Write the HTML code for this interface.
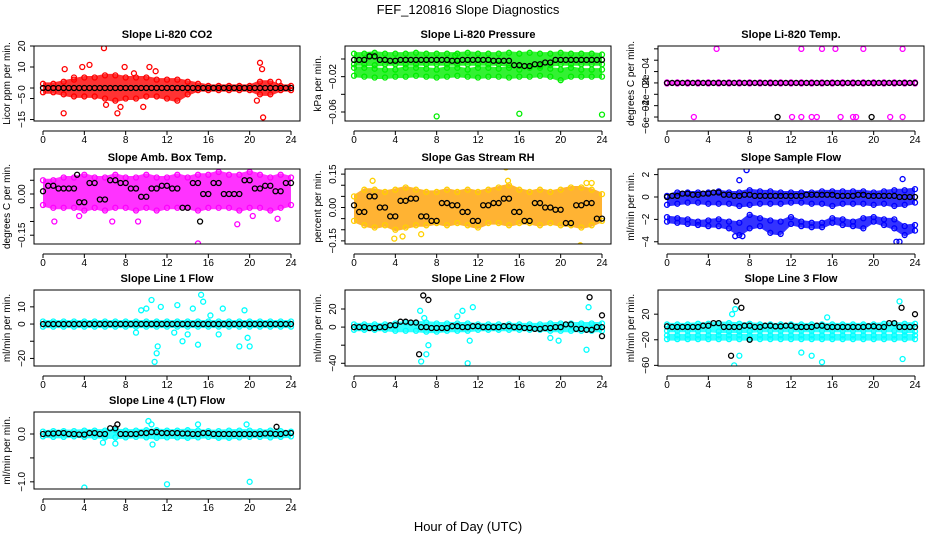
<!DOCTYPE html>
<html><head><meta charset="utf-8"><style>
body{margin:0;background:#fff;}
svg{display:block;font-family:"Liberation Sans",sans-serif;}
</style></head><body>
<svg id="chart" width="936" height="540"></svg>
<script>
// ---- data ----
const hours=[0,1,2,3,4,5,6,7,8,9,10,11,12,13,14,15,16,17,18,19,20,21,22,23,24];
const xTicks=[0,4,8,12,16,20,24];
// CO2
const co2Hi=[2,2,3,4,5,5,6,6,5,5,5,4,4,4,3,2,1,1,1,1,1,3,3,1,1];
const co2Lo=[-2,-2,-3,-4,-4,-4,-5,-6,-5,-5,-4,-4,-5,-6,-3,-1,-1,-1,-1,-1,-1,-3,-3,-1,-1];
const co2Black=[0,0,0,0,0,0,0,0,0,0,0,0,0,0,0,0,0,0,0,0,0,0,0,0,0];
const co2OutX=[2,2.1,3,3.8,4.5,5.9,6.1,7.2,7.5,7.9,8.8,9.7,10.3,10.9,20.7,21,21.2,21.3,22.8];
const co2OutY=[-12,9,5,10,11,19,-8,-12,-9,10,7,-9,10,8,-6,12,9,-14,3];
// Pressure
const prHi=[0.006,0.006,0.007,0.006,0.006,0.006,0.007,0.006,0.006,0.006,0.006,0.007,0.006,0.006,0.006,0.007,0.006,0.007,0.006,0.006,0.007,0.006,0.006,0.006,0.005];
const prLo=[-0.006,-0.006,-0.007,-0.006,-0.006,-0.006,-0.006,-0.006,-0.006,-0.006,-0.006,-0.006,-0.006,-0.006,-0.006,-0.007,-0.008,-0.008,-0.008,-0.007,-0.006,-0.006,-0.006,-0.006,-0.006];
const prHi2=[-0.010,-0.010,-0.011,-0.012,-0.012,-0.010,-0.010,-0.011,-0.012,-0.010,-0.010,-0.012,-0.010,-0.010,-0.011,-0.010,-0.012,-0.010,-0.010,-0.011,-0.012,-0.010,-0.012,-0.012,-0.012];
const prLo2=[-0.019,-0.020,-0.021,-0.021,-0.020,-0.020,-0.019,-0.020,-0.021,-0.020,-0.019,-0.020,-0.021,-0.020,-0.020,-0.021,-0.020,-0.020,-0.019,-0.020,-0.024,-0.020,-0.020,-0.020,-0.020];
const prBlack=[-0.001,-0.001,0.003,-0.001,-0.002,-0.001,-0.001,-0.001,-0.001,-0.001,-0.002,-0.001,-0.001,-0.001,-0.002,-0.002,-0.007,-0.008,-0.006,-0.004,-0.001,-0.001,-0.001,-0.001,-0.001];
const prOutX=[8,16,24,1.5,9.8];
const prOutY=[-0.065,-0.062,-0.063,0.004,0.004];
// Li-820 Temp
const tmHi=[0.00001,0.00001,0.00001,0.00001,0.00001,0.00001,0.00001,0.00001,0.00001,0.00001,0.00001,0.00001,0.00001,0.00001,0.00001,0.00001,0.00001,0.00001,0.00001,0.00001,0.00001,0.00001,0.00001,0.00001,0.00001];
const tmLo=[-0.00001,-0.00001,-0.00001,-0.00001,-0.00001,-0.00001,-0.00001,-0.00001,-0.00001,-0.00001,-0.00001,-0.00001,-0.00001,-0.00001,-0.00001,-0.00001,-0.00001,-0.00001,-0.00001,-0.00001,-0.00001,-0.00001,-0.00001,-0.00001,-0.00001];
const tmBlack=[0,0,0,0,0,0,0,0,0,0,0,0,0,0,0,0,0,0,0,0,0,0,0,0,0];
const tmOutX=[4.8,13,15,16.3,19,22.8,2.6,12.1,13,14,14.5,16.8,18,18.3,21.6,22.8];
const tmOutY=[0.0006,0.0006,0.0006,0.0006,0.0006,0.0006,-0.0006,-0.0006,-0.0006,-0.0006,-0.0006,-0.0006,-0.0006,-0.0006,-0.0006,-0.0006];
const tmBlkOutX=[10.7,19.8];
const tmBlkOutY=[-0.0006,-0.0006];
// Amb box temp
const abHi=[0.05,0.05,0.06,0.06,0.07,0.06,0.06,0.07,0.06,0.06,0.07,0.06,0.06,0.07,0.06,0.07,0.07,0.08,0.07,0.07,0.08,0.07,0.06,0.07,0.06];
const abLo=[-0.04,-0.05,-0.05,-0.05,-0.06,-0.05,-0.06,-0.05,-0.05,-0.06,-0.05,-0.06,-0.05,-0.05,-0.05,-0.06,-0.05,-0.05,-0.05,-0.06,-0.05,-0.05,-0.06,-0.05,-0.04];
const abBlack=[0.01,0.03,0.02,0.02,-0.03,0.04,-0.02,0.05,0.04,0.02,-0.01,0.02,0.03,0.02,-0.05,0.04,0.0,0.04,0.0,0.0,0.05,0.02,0.03,0.01,0.04];
const abOutX=[1.1,3.5,6.7,9.2,15,18.8,20.3,22.7];
const abOutY=[-0.1,-0.08,-0.1,-0.1,-0.18,-0.11,-0.08,-0.09];
const abBlkOutX=[15.2,15.7,3.3];
const abBlkOutY=[-0.1,0.11,0.07];
// Gas stream RH
const rhHi=[0.05,0.08,0.08,0.07,0.08,0.09,0.08,0.07,0.07,0.08,0.07,0.08,0.07,0.08,0.09,0.1,0.08,0.07,0.08,0.07,0.08,0.09,0.09,0.08,0.06];
const rhLo=[-0.06,-0.08,-0.09,-0.08,-0.1,-0.09,-0.08,-0.08,-0.07,-0.08,-0.07,-0.08,-0.09,-0.07,-0.07,-0.08,-0.07,-0.07,-0.08,-0.07,-0.08,-0.08,-0.09,-0.08,-0.06];
const rhBlack=[0.01,-0.02,0.05,0.0,-0.04,0.03,0.04,-0.04,-0.06,0.02,0.01,-0.02,-0.06,0.01,0.02,0.04,-0.02,-0.06,0.02,0.0,-0.01,-0.07,0.01,0.02,-0.05];
const rhOutX=[1.8,3.9,4.7,6.5,14.7,14.9,21.9,22.5,23];
const rhOutY=[0.12,-0.14,-0.13,-0.12,0.18,0.12,-0.17,0.11,0.11];
// Sample flow
const sfHi=[0.1,0.4,0.4,0.4,0.4,0.5,0.4,0.4,0.6,0.5,0.5,0.4,0.4,0.4,0.4,0.5,0.5,0.5,0.5,0.5,0.4,0.5,0.6,0.6,0.7];
const sfLo=[-0.7,-0.6,-0.5,-0.5,-0.6,-0.6,-0.6,-0.8,-0.7,-0.6,-0.6,-0.6,-0.5,-0.5,-0.6,-0.6,-0.8,-0.6,-0.6,-0.6,-0.7,-0.6,-0.8,-0.7,-0.5];
const sfHi2=[-1.8,-1.9,-2.0,-2.2,-2.1,-2.0,-2.2,-2.3,-1.6,-1.9,-2.1,-2.2,-1.8,-2.2,-2.3,-2.3,-1.9,-2.0,-2.2,-1.9,-1.8,-2.0,-2.0,-2.6,-2.5];
const sfLo2=[-2.2,-2.3,-2.4,-2.5,-2.6,-2.6,-2.8,-3.4,-2.8,-2.6,-3.2,-3.3,-2.4,-2.6,-2.7,-2.7,-2.3,-2.5,-2.6,-2.8,-2.2,-2.5,-2.8,-3.4,-3.0];
const sfBlack=[0.0,0.1,0.3,0.2,0.3,0.4,0.2,0.1,0.2,0.1,0.1,0.1,0.1,0.1,0.2,0.2,0.2,0.1,0.1,0.2,0.1,0.1,0.1,0.0,0.0];
const sfOutX=[7,7.7,22.8,22.2,22.5,6.6,7.3];
const sfOutY=[1.5,2.4,1.6,-4,-4,-3.5,-3.5];
// Line 1
const l1Hi=[1.5,1.5,1.5,1.5,1.5,1.5,1.5,1.5,1.5,1.5,1.5,1.5,1.5,1.5,1.5,1.5,1.5,1.5,1.5,1.5,1.5,1.5,1.5,1.5,1.5];
const l1Lo=[-1.5,-1.5,-1.5,-1.5,-1.5,-1.5,-1.5,-1.5,-1.5,-1.5,-1.5,-1.5,-1.5,-1.5,-1.5,-1.5,-1.5,-1.5,-1.5,-1.5,-1.5,-1.5,-1.5,-1.5,-1.5];
const l1Black=[0,0,0,0,0,0,0,0,0,0,0,0,0,0,0,0,0,0,0,0,0,0,0,0,0];
const l1OutX=[9,9.5,10,10.5,10.8,11,11.1,11.4,12.7,13,13.5,14,14.5,15,15.3,15.5,16.2,17,17.4,19,19.5,19.8,20];
const l1OutY=[-5,8,9,14,-22,-17,-13,10,-5,11,-10,-6,9,-12,17,13,5,-6,9,-13,8,-8,-13];
// Line 2
const l2Hi=[3,3,3,3,4,5,5,5,4,4,4,4,3,3,3,3,3,3,3,4,4,4,4,4,4];
const l2Lo=[-3,-3,-3,-3,-4,-4,-4,-5,-5,-4,-4,-4,-3,-3,-3,-3,-3,-3,-3,-4,-4,-4,-4,-4,-4];
const l2Black=[0,0,-1,0,2,6,5,0,-1,-1,1,0,1,0,0,1,0,-1,-2,-1,0,3,-2,-3,0];
const l2OutX=[6.4,6.5,6.8,7,7.2,10,10.5,11,11.2,11.5,19,19.8,22.5,22.7];
const l2OutY=[18,-38,10,-30,-20,12,18,-40,-15,22,-12,-15,-25,22];
const l2BlkOutX=[6.3,6.7,7.2,22.8,24,24];
const l2BlkOutY=[-30,35,30,33,13,-10];
// Line 3
const l3Hi=[4,4,4,5,5,6,6,5,5,4,4,4,4,4,4,4,4,4,4,4,4,5,5,5,5];
const l3Lo=[-6,-6,-6,-6,-6,-7,-7,-7,-7,-6,-6,-6,-6,-6,-6,-6,-6,-6,-6,-6,-6,-6,-6,-7,-7];
const l3Hi2=[-13,-13,-13,-13,-13,-13,-13,-13,-13,-13,-13,-13,-13,-13,-13,-13,-13,-13,-13,-13,-13,-13,-13,-13,-13];
const l3Lo2=[-19,-19,-19,-19,-19,-19,-19,-19,-19,-19,-19,-19,-19,-19,-19,-19,-19,-19,-19,-19,-19,-19,-19,-19,-19];
const l3Black=[1,0,0,0,2,6,0,0,2,0,2,1,2,0,0,2,0,0,0,0,1,0,6,0,0];
const l3OutX=[6.3,6.6,6.5,7,13,14,15,15.5,22.5,22.8];
const l3OutY=[20,28,-60,-45,-40,-45,-55,15,40,-50];
const l3BlkOutX=[6.2,6.7,7.2,22.7,24,8];
const l3BlkOutY=[-45,40,30,30,20,-20];
// Line 4
const l4Hi=[0.05,0.06,0.06,0.06,0.07,0.07,0.07,0.08,0.07,0.07,0.08,0.08,0.07,0.07,0.08,0.07,0.06,0.06,0.07,0.07,0.07,0.06,0.07,0.06,0.05];
const l4Lo=[-0.05,-0.06,-0.06,-0.05,-0.06,-0.06,-0.07,-0.07,-0.07,-0.06,-0.07,-0.08,-0.07,-0.07,-0.08,-0.07,-0.06,-0.08,-0.08,-0.07,-0.06,-0.06,-0.07,-0.06,-0.05];
const l4Black=[0,0.01,0.02,0,-0.01,0.02,0,0.12,0,0,0.02,0.04,0.02,0.02,0.01,0,0.02,0,0,0,0,0,0.01,0,0.02];
const l4OutX=[4,12,20,7,10.2,10.5,15,19.7,5.8,10.6];
const l4OutY=[-1.12,-1.05,-1.0,-0.2,0.27,0.2,0.2,0.2,-0.18,-0.22];
const l4BlkOutX=[7.2,22.6];
const l4BlkOutY=[0.2,0.15];

const NS='http://www.w3.org/2000/svg';
const svg=document.getElementById('chart');
function mk(tag,attrs,parent){const e=document.createElementNS(NS,tag);for(const k in attrs)e.setAttribute(k,attrs[k]);(parent||svg).appendChild(e);return e;}

const panels=[
 {key:'co2',title:'Slope Li-820 CO2',ylab:'Licor ppm per min.',L:34,T:46,H:75,ylim:[-15.7,20],ticks:[-15,-5,0,10,20],labs:['−15','−5','0','10','20'],col:'#ff0000',bands:[[co2Hi,co2Lo]],blk:co2Black,ox:co2OutX,oy:co2OutY},
 {key:'pressure',title:'Slope Li-820 Pressure',ylab:'kPa per min.',L:345,T:46,H:75,ylim:[-0.0702,0.0147],ticks:[0,-0.02,-0.04,-0.06],labs:['','−0.02','','−0.06'],col:'#00ee00',bands:[[prHi,prLo],[prHi2,prLo2]],blk:prBlack,ox:prOutX,oy:prOutY},
 {key:'temp',title:'Slope Li-820 Temp.',ylab:'degrees C per min.',L:658,T:46,H:75,ylim:[-0.00067,0.00065],ticks:[0.0006,0.0004,0.0002,0,-0.0002,-0.0004,-0.0006],labs:['','','2e−04','','−2e−04','','−6e−04'],col:'#ff00ff',bands:[[tmHi,tmLo]],blk:tmBlack,ox:tmOutX,oy:tmOutY,bx:tmBlkOutX,by:tmBlkOutY},
 {key:'ambbox',title:'Slope Amb. Box Temp.',ylab:'degrees C per min.',L:34,T:169,H:75,ylim:[-0.182,0.091],ticks:[0.05,0,-0.05,-0.1,-0.15],labs:['','0.00','','','−0.15'],col:'#ff00ff',bands:[[abHi,abLo]],blk:abBlack,ox:abOutX,oy:abOutY,bx:abBlkOutX,by:abBlkOutY},
 {key:'rh',title:'Slope Gas Stream RH',ylab:'percent per min.',L:345,T:169,H:75,ylim:[-0.164,0.173],ticks:[0.15,0.1,0.05,0,-0.05,-0.1,-0.15],labs:['0.15','','','0.00','','','−0.15'],col:'#ffd000',fill:'#ffa000',bands:[[rhHi,rhLo]],blk:rhBlack,ox:rhOutX,oy:rhOutY},
 {key:'sampleflow',title:'Slope Sample Flow',ylab:'ml/min per min.',L:658,T:169,H:75,ylim:[-4.2,2.5],ticks:[2,0,-2,-4],labs:['2','0','−2','−4'],col:'#0000ff',bands:[[sfHi,sfLo],[sfHi2,sfLo2]],blk:sfBlack,ox:sfOutX,oy:sfOutY},
 {key:'line1',title:'Slope Line 1 Flow',ylab:'ml/min per min.',L:34,T:290,H:76,ylim:[-24.4,19.8],ticks:[10,0,-10,-20],labs:['10','0','','−20'],col:'#00ffff',bands:[[l1Hi,l1Lo]],blk:l1Black,ox:l1OutX,oy:l1OutY},
 {key:'line2',title:'Slope Line 2 Flow',ylab:'ml/min per min.',L:345,T:290,H:76,ylim:[-43,41],ticks:[20,0,-20,-40],labs:['20','0','','−40'],col:'#00ffff',bands:[[l2Hi,l2Lo]],blk:l2Black,ox:l2OutX,oy:l2OutY,bx:l2BlkOutX,by:l2BlkOutY},
 {key:'line3',title:'Slope Line 3 Flow',ylab:'ml/min per min.',L:658,T:290,H:76,ylim:[-61,57.8],ticks:[20,-20,-60],labs:['20','−20','−60'],col:'#00ffff',bands:[[l3Hi,l3Lo],[l3Hi2,l3Lo2]],blk:l3Black,ox:l3OutX,oy:l3OutY,bx:l3BlkOutX,by:l3BlkOutY},
 {key:'line4',title:'Slope Line 4 (LT) Flow',ylab:'ml/min per min.',L:34,T:412,H:77,ylim:[-1.15,0.46],ticks:[0,-0.5,-1],labs:['0.0','','−1.0'],col:'#00ffff',bands:[[l4Hi,l4Lo]],blk:l4Black,ox:l4OutX,oy:l4OutY,bx:l4BlkOutX,by:l4BlkOutY}
];

const t=mk('text',{x:468,y:14,'text-anchor':'middle','font-size':13});
t.textContent='FEF_120816  Slope Diagnostics';


const xl=mk('text',{x:468,y:531,'text-anchor':'middle','font-size':13});
xl.textContent='Hour of Day (UTC)';



panels.forEach(p=>{
  const W=266,L=p.L,T=p.T,H=p.H,B=T+H;
  const sx=h=>L+9+h/24*248;
  const sy=v=>B-(v-p.ylim[0])/(p.ylim[1]-p.ylim[0])*H;
  const g=mk('g',{});
  
  
  const ti=mk('text',{x:L+W/2,y:T-8,'text-anchor':'middle','font-size':11,'font-weight':'bold'},g);
  ti.textContent=p.title;
  
  
  const cp=mk('clipPath',{id:'c'+p.key},g);
  mk('rect',{x:L,y:T,width:W,height:H},cp);
  const pg=mk('g',{'clip-path':'url(#c'+p.key+')'},g);
  
  
  p.bands.forEach(b=>{
    const hi=b[0],lo=b[1];
    let d='';
    hours.forEach((h,i)=>{d+=(i?'L':'M')+sx(h)+','+(sy(hi[i])-1.5);});
    for(let i=hours.length-1;i>=0;i--)d+='L'+sx(hours[i])+','+(sy(lo[i])+1.5);
    const band=mk('path',{d:d+'Z',fill:p.fill||p.col,'fill-opacity':0.8,stroke:'none'},pg);
    
    
    hours.forEach((h,i)=>{
      [hi[i],lo[i]].forEach(v=>{
        const c=mk('circle',{cx:sx(h),cy:sy(v),r:2.5,fill:'none',stroke:p.col,'stroke-width':1.3},pg);
        
        
      });
    });
  });
  p.ox.forEach((x,i)=>{
    const c=mk('circle',{cx:sx(x),cy:sy(p.oy[i]),r:2.5,fill:'none',stroke:p.col,'stroke-width':1.3},pg);
    
    
  });
  const drawBlk=(x,y)=>{
    const c=mk('circle',{cx:sx(x),cy:sy(y),r:2.5,fill:'none',stroke:'#000','stroke-width':1.3},pg);
    
    
  };
  hours.forEach((h,i)=>{ if(i>0) drawBlk(h-0.5,p.blk[i]); drawBlk(h,p.blk[i]); });
  if(p.bx)p.bx.forEach((x,i)=>drawBlk(x,p.by[i]));
  const box=mk('rect',{x:L,y:T,width:W,height:H,fill:'none',stroke:'#000','stroke-width':1},g);
  
  
  const xa=mk('g',{},g);
  
  
  mk('line',{x1:sx(0),x2:sx(24),y1:B+10,y2:B+10,stroke:'#000'},xa);
  xTicks.forEach(v=>{
    mk('line',{x1:sx(v),x2:sx(v),y1:B+10,y2:B+14,stroke:'#000'},xa);
    const tl=mk('text',{x:sx(v),y:B+22,'text-anchor':'middle','font-size':10},xa);
    tl.textContent=v;
    
    
  });
  const ya=mk('g',{},g);
  
  
  const yt=p.ticks.map(sy);
  mk('line',{x1:L,x2:L,y1:Math.min(...yt),y2:Math.max(...yt),stroke:'#000'},ya);
  p.ticks.forEach((v,i)=>{
    const y=sy(v);
    mk('line',{x1:L-4,x2:L,y1:y,y2:y,stroke:'#000'},ya);
    const tl=mk('text',{x:L-9,y:y,'text-anchor':'middle','font-size':10,transform:'rotate(-90 '+(L-9)+' '+y+')'},ya);
    tl.textContent=p.labs[i];
    
    
  });
  const yl=mk('text',{x:L-24,y:T+H/2,'text-anchor':'middle','font-size':10,transform:'rotate(-90 '+(L-24)+' '+(T+H/2)+')'},g);
  yl.textContent=p.ylab;
  
  
});
</script>
</body></html>
